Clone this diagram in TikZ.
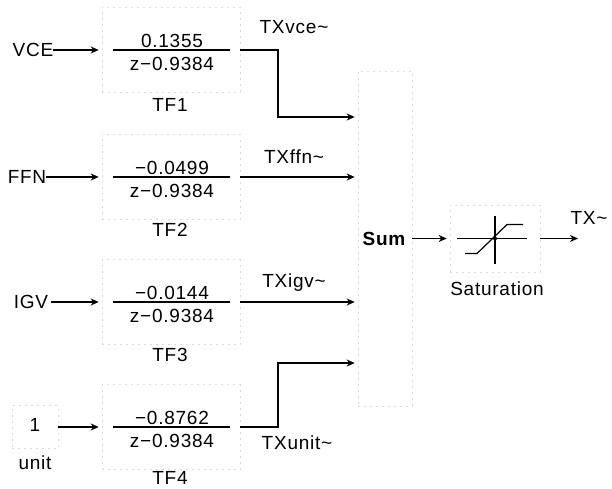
\documentclass[tikz,border=0pt]{standalone}
\usepackage{fontspec}
\setmainfont{Liberation Sans}[LetterSpace=4]
\usetikzlibrary{arrows.meta,calc}
\newcommand{\tld}{\textasciitilde}
\begin{document}
\begin{tikzpicture}[x=1pt,y=-1pt,
  lbl/.style={font=\fontsize{19}{21}\selectfont, inner sep=0pt},
  wire/.style={line width=1.4pt},
  sig/.style={wire, -{Stealth[length=8pt,width=7pt,inset=2.5pt]}},
  faint/.style={draw=black!14, dash pattern=on 2pt off 4pt, line width=0.6pt},
  tfblock/.style={faint, minimum width=138pt, minimum height=85pt, inner sep=0pt},
]
\useasboundingbox (0,0) rectangle (612,489);

% transfer function blocks
\node[tfblock] (tf1) at (171,50) {};
\node[tfblock] (tf2) at (171,177) {};
\node[tfblock] (tf3) at (171,302) {};
\node[tfblock] (tf4) at (171,427) {};

% fractions
\node[lbl] (n1) at (172,41) {0.1355};
\node[lbl] (d1) at (172,64) {z−0.9384};
\draw[wire] (113,50) -- (230,50);
\node[lbl] (n2) at (172,168) {−0.0499};
\node[lbl] (d2) at (172,191) {z−0.9384};
\draw[wire] (113,177) -- (230,177);
\node[lbl] (n3) at (172,293) {−0.0144};
\node[lbl] (d3) at (172,316) {z−0.9384};
\draw[wire] (113,302) -- (230,302);
\node[lbl] (n4) at (172,418) {−0.8762};
\node[lbl] (d4) at (172,441) {z−0.9384};
\draw[wire] (113,427) -- (230,427);

% block names
\node[lbl] (t1) at (170,105) {TF1};
\node[lbl] (t2) at (170,230) {TF2};
\node[lbl] (t3) at (170,355) {TF3};
\node[lbl] (t4) at (170,478) {TF4};

% inputs
\node[lbl] (vce) at (33,50) {VCE};
\node[lbl] (ffn) at (27,177) {FFN};
\node[lbl] (igv) at (31,302) {IGV};
\node[faint, minimum width=46pt, minimum height=43pt, inner sep=0pt] (unitb) at (35,427) {};
\node[lbl] (one) at (35,425) {1};
\node[lbl] (unitl) at (35,463) {unit};

\draw[sig, shorten >=3pt] (vce.east) -- (tf1.west);
\draw[sig, shorten >=3pt] (ffn.east) -- (tf2.west);
\draw[sig, shorten <=3pt, shorten >=3pt] (igv.east) -- (tf3.west);
\draw[sig, shorten >=3pt] (unitb.east) -- (tf4.west);

% sum block
\node[faint, minimum width=54pt, minimum height=335pt, inner sep=0pt] (sumb) at (385,238.5) {};
\node[lbl, font=\fontsize{19}{21}\selectfont\bfseries] (sum) at (384,239) {Sum};

\coordinate (in1) at (sumb.west |- 0,117);
\coordinate (in2) at (sumb.west |- 0,177);
\coordinate (in3) at (sumb.west |- 0,302);
\coordinate (in4) at (sumb.west |- 0,363);

\draw[sig, shorten >=3pt] (tf1.east) -- (278,50) |- (in1);
\draw[sig, shorten >=3pt] (tf2.east) -- (in2);
\draw[sig, shorten >=3pt] (tf3.east) -- (in3);
\draw[sig, shorten >=3pt] (tf4.east) -- (278,427) |- (in4);

\node[lbl] (l1) at (294,27) {TXvce\tld};
\node[lbl] (l2) at (294,157) {TXffn\tld};
\node[lbl] (l3) at (294,283) {TXigv\tld};
\node[lbl] (l4) at (297,443) {TXunit\tld};

% saturation
\node[faint, minimum width=90pt, minimum height=67pt, inner sep=0pt] (sat) at (495,238.5) {};
\node[lbl] (satl) at (497,289) {Saturation};
\draw[line width=1.2pt] ($(sat.center)+(0,-23)$) -- ($(sat.center)+(0,25)$);
\draw[line width=1.2pt] ($(sat.center)+(-38,0)$) -- ($(sat.center)+(32,0)$);
\draw[line width=1.2pt] ($(sat.center)+(-30,15)$) -- ($(sat.center)+(-18,15)$) -- ($(sat.center)+(12,-14)$) -- ($(sat.center)+(28,-14)$);
\fill ($(sat.center)$) circle (2pt);

\draw[sig, shorten >=3pt] (sumb.east |- sat.west) -- (sat.west);
\coordinate (outend) at (578,238.5);
\draw[sig] (sat.east) -- (outend);
\node[lbl] (tx) at (589,218) {TX\tld};
\end{tikzpicture}
\end{document}
